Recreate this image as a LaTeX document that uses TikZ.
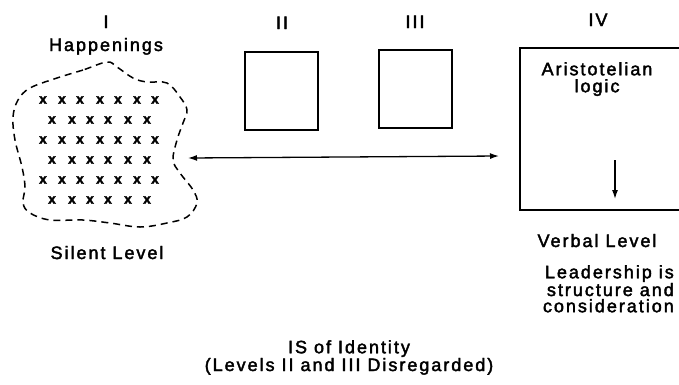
\documentclass[tikz,border=0pt]{standalone}
\usepackage{fontspec}
\setmainfont{Liberation Sans}[LetterSpace=11, FakeBold=2.2]
\usetikzlibrary{arrows.meta}
\tikzset{
  lbl/.style={font=\fontsize{18}{15.5}\selectfont, inner sep=0pt, anchor=base},
  xm/.style={font=\fontsize{14}{14}\selectfont\bfseries, inner sep=0pt},
  levelbox/.style={draw, line width=1.6pt, minimum width=73pt, minimum height=78pt, inner sep=0pt},
  conn/.style={line width=1.3pt, {Latex[length=9pt,width=6pt]}-{Latex[length=9pt,width=6pt]}},
  downarr/.style={line width=1.3pt, -{Latex[length=9pt,width=6pt]}},
  blob/.style={dashed, dash pattern=on 7pt off 5pt, line width=1.5pt}
}
\begin{document}
\begin{tikzpicture}[x=1pt,y=-1pt]
\useasboundingbox (0,0) rectangle (679,384);
\clip (0,0) rectangle (679,384);
% level labels
\node[lbl] (lI) at (106,28) {I};
\node[lbl] (happ) at (106,51) {Happenings};
\node[lbl] (lII) at (282,29) {II};
\node[lbl] (lIII) at (415,28) {III};
\node[lbl] (lIV) at (598,26) {IV};
% blob
\draw[blob] plot[smooth cycle, tension=0.6] coordinates {
 (107,62) (83,70) (57,78) (30,88) (18,100) (13,117) (15,140) (22,167) (25,187) (23,203)
 (30,213) (50,220) (83,220) (110,223) (140,227) (167,223) (187,217) (197,203) (193,190)
 (180,173) (173,160) (177,140) (183,123) (187,110) (180,97) (167,83) (147,82) (133,78) (117,67)};
% x marks
\foreach \y in {100,140,180} {
  \foreach \x in {43,62,80,100,118,137,155} { \node[xm] at (\x,\y) {x}; }
}
\foreach \y in {120,160,200} {
  \foreach \x in {52,72,90,108,128,147} { \node[xm] at (\x,\y) {x}; }
}
\node[lbl] (silent) at (107,259) {Silent Level};
% boxes
\node[levelbox] (bII) at (281.5,91) {};
\node[levelbox] (bIII) at (415.5,89) {};
\node[draw, line width=1.6pt, minimum width=190pt, minimum height=162pt, inner sep=0pt] (bIV) at (615,129) {};
\node[lbl, align=center, anchor=north, font=\fontsize{18}{17}\selectfont] (aris) at (597,62) {Aristotelian\\logic};
\coordinate (dtop) at (615,160);
\coordinate (dbot) at (615,199);
\draw[downarr] (dtop) -- (dbot);
% identity arrow
\coordinate (aL) at (188,158);
\coordinate (aR) at (499,156);
\draw[conn] (aL) -- (aR);
% lower texts
\node[lbl] (verbal) at (597,247) {Verbal Level};
\node[lbl, align=right, anchor=north east, font=\fontsize{18}{16.2}\selectfont] (lead) at (674,265) {Leadership is\\structure and\\consideration};
\node[lbl, align=center, anchor=north] (isid) at (349,340) {IS of Identity\\(Levels II and III Disregarded)};
\end{tikzpicture}
\end{document}
